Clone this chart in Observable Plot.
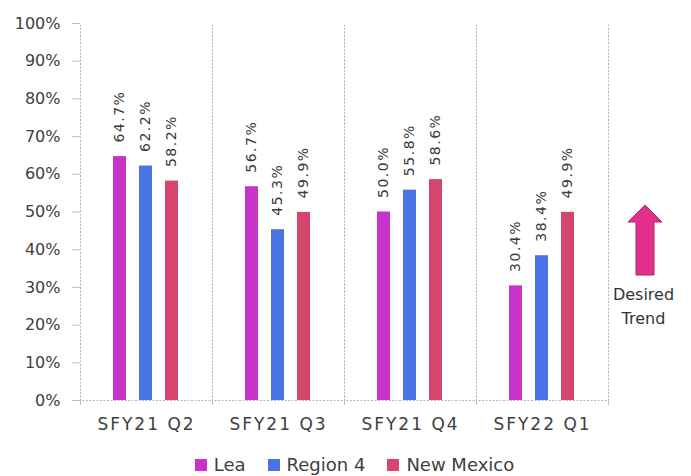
<!DOCTYPE html>
<html><head><meta charset="utf-8">
<script src="https://cdn.jsdelivr.net/npm/d3@7"></script>
<script src="https://cdn.jsdelivr.net/npm/@observablehq/plot@0.6"></script>
<style>
body{margin:0;background:#fff;font-family:"DejaVu Sans",sans-serif;}
#wrap{position:relative;width:691px;height:476px;overflow:hidden;}
#legend{display:flex;justify-content:center;align-items:center;height:20px;line-height:20px;margin-top:15px;padding-left:18px;font-size:18px;color:#404040;}
.li{display:flex;align-items:center;margin:0 11px;}
.sw{width:12px;height:12px;margin-right:7px;}
</style></head><body><div id="wrap"></div>
<script>
const quarters = ["SFY21 Q2", "SFY21 Q3", "SFY21 Q4", "SFY22 Q1"];
const series = ["Lea", "Region 4", "New Mexico"];
const colors = ["#C832C8", "#4A74E4", "#D4466E"];
const lea = [64.7, 56.7, 50.0, 30.4];
const region4 = [62.2, 45.3, 55.8, 38.4];
const newMexico = [58.2, 49.9, 58.6, 49.9];
const yTicks = [0, 10, 20, 30, 40, 50, 60, 70, 80, 90, 100];
const annotation = ["Desired", "Trend"];

const values = [lea, region4, newMexico];
const data = quarters.flatMap((q, i) => series.map((s, j) => ({quarter: q, series: s, value: values[j][i]})));

const chart = Plot.plot({
  width: 691, height: 440,
  marginLeft: 80, marginRight: 83, marginTop: 23, marginBottom: 40,
  style: {fontFamily: "DejaVu Sans", background: "white", overflow: "visible"},
  fx: {domain: quarters, padding: 0},
  x: {domain: series, axis: null, paddingInner: 0.481, paddingOuter: 1.185},
  y: {domain: [0, 100]},
  color: {domain: series, range: colors},
  marks: [
    Plot.frame({stroke: "#B4B4B4", strokeDasharray: "2,1.5"}),
    Plot.ruleY([100], {stroke: "white", strokeWidth: 3}),
    Plot.axisY({ticks: yTicks, tickFormat: d => d + "%", tickSize: 8, tickPadding: 12, stroke: "#BFBFBF", fill: "#404040", fontSize: 16, label: null}),
    Plot.axisFx({anchor: "bottom", tickSize: 0, tickPadding: 17, fontSize: 17, fill: "#404040", label: null}),
    Plot.barY(data, {fx: "quarter", x: "series", y: "value", fill: "series"}),
    Plot.text(data, {fx: "quarter", x: "series", y: "value", text: d => d.value.toFixed(1) + "%", rotate: -90, textAnchor: "start", dy: -14, fontSize: 14, fill: "#3a3a3a"})
  ]
});

const wrap = document.getElementById("wrap");
wrap.appendChild(chart);
const svg = d3.select(chart);
svg.selectAll('g[aria-label="text"] text').style("letter-spacing", "1.5px");
svg.selectAll('g[aria-label="fx-axis tick label"] text').style("letter-spacing", "2px");

// small category boundary ticks below the baseline, positioned from the fx and y scales
const fxs = chart.scale("fx"), ys = chart.scale("y");
const y0 = ys.apply(0);
const edges = [fxs.apply(quarters[0])].concat(quarters.map(q => fxs.apply(q) + fxs.bandwidth));
svg.append("g").selectAll("line").data(edges).join("line")
  .attr("x1", d => d + 0.5).attr("x2", d => d + 0.5).attr("y1", y0).attr("y2", y0 + 5)
  .attr("stroke", "#BFBFBF");

// Desired trend arrow annotation
svg.append("path")
  .attr("d", "M645,205 L662,222 L654,222 L654,275 L636,275 L636,222 L628,222 Z")
  .attr("fill", "#E0308A").attr("stroke", "#B8206C").attr("stroke-width", 1);
svg.append("text").attr("x", 643.5).attr("y", 294).attr("text-anchor", "middle").attr("dominant-baseline", "central")
  .attr("font-size", 16).attr("fill", "#333").attr("font-family", "DejaVu Sans").text(annotation[0]);
svg.append("text").attr("x", 643.5).attr("y", 318).attr("text-anchor", "middle").attr("dominant-baseline", "central")
  .attr("font-size", 16).attr("fill", "#333").attr("font-family", "DejaVu Sans").text(annotation[1]);

// legend
const legend = document.createElement("div");
legend.id = "legend";
series.forEach((s, i) => {
  const item = document.createElement("div");
  item.className = "li";
  const sw = document.createElement("span");
  sw.className = "sw"; sw.style.background = colors[i];
  const t = document.createElement("span");
  t.textContent = s;
  item.appendChild(sw); item.appendChild(t);
  legend.appendChild(item);
});
wrap.appendChild(legend);
</script></body></html>
